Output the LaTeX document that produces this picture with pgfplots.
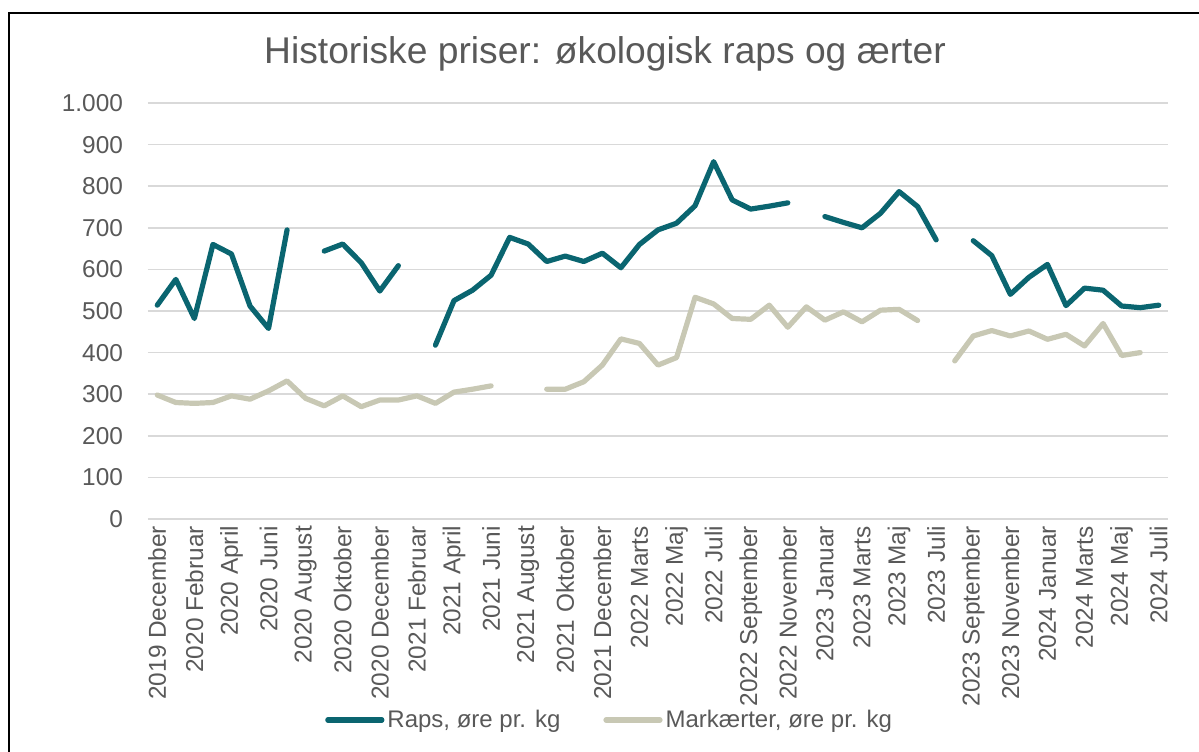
\documentclass[border=0pt]{standalone}
\usepackage{fontspec}
\setmainfont{Liberation Sans}
\usepackage{pgfplots}
\usepackage{pgfplotstable}
\pgfplotsset{compat=1.18}
\definecolor{raps}{RGB}{10,101,112}
\definecolor{aert}{RGB}{200,200,180}
\definecolor{txt}{RGB}{89,89,89}
\definecolor{gridc}{RGB}{217,217,217}
\pgfplotstableread{
i raps aert
0 514 298
1 576 280
2 482 278
3 660 280
4 637 296
5 512 288
6 458 308
7 695 332
8 nan 290
9 644 272
10 661 296
11 616 270
12 548 286
13 609 286
14 nan 296
15 418 278
16 525 305
17 550 312
18 586 320
19 677 nan
20 661 nan
21 619 312
22 632 312
23 619 330
24 639 370
25 604 433
26 660 422
27 695 370
28 711 388
29 753 533
30 859 517
31 767 482
32 745 480
33 752 514
34 760 461
35 nan 510
36 727 478
37 713 498
38 700 474
39 735 502
40 787 504
41 751 477
42 671 nan
43 nan 380
44 669 440
45 633 453
46 540 440
47 581 452
48 612 432
49 513 444
50 555 416
51 550 470
52 512 393
53 508 400
54 514 nan
}\data
\begin{document}
\begin{tikzpicture}
\useasboundingbox (0,0) rectangle (599.5pt,375.5pt);
\draw[black,line width=1pt] (4.25pt,-2pt) -- (4.25pt,369pt) -- (602pt,369pt);
\node[text=txt,font=\fontsize{18.6}{22}\selectfont] at (302.5pt,348.5pt) {Historiske priser: økologisk raps og ærter};
\begin{axis}[
  at={(74pt,116pt)}, anchor=south west,
  scale only axis, width=510pt, height=208pt,
  xmin=-0.5, xmax=54.5, ymin=0, ymax=1000,
  axis line style={draw=none},
  major tick length=0pt,
  ymajorgrids, xmajorgrids=false, grid style={draw=gridc,line width=0.8pt},
  ytick={0,100,...,1000},
  xtick={0,2,...,54},
  xticklabels={2019 December,2020 Februar,2020 April,2020 Juni,2020 August,2020 Oktober,2020 December,2021 Februar,2021 April,2021 Juni,2021 August,2021 Oktober,2021 December,2022 Marts,2022 Maj,2022 Juli,2022 September,2022 November,2023 Januar,2023 Marts,2023 Maj,2023 Juli,2023 September,2023 November,2024 Januar,2024 Marts,2024 Maj,2024 Juli},
  x tick label style={rotate=90, anchor=east, text=txt, font=\fontsize{12.2}{14}\selectfont},
  y tick label style={text=txt, font=\fontsize{12.2}{14}\selectfont, xshift=-9pt},
  /pgf/number format/assume math mode=true,
  /pgf/number format/1000 sep={.},
  unbounded coords=jump,
  legend columns=2,
  legend style={draw=none, fill=none, at={(0.453,-0.483)}, anchor=center,
    font=\fontsize{12}{14}\selectfont, text=txt,
    nodes={inner xsep=1.5pt},
    /tikz/every even column/.append style={column sep=20pt}},
  legend image code/.code={\draw[#1, line cap=round] (0pt,0pt) -- (27pt,0pt);},
]
\addplot[raps, line width=2.6pt, line join=round, line cap=round] table[x=i,y=raps] {\data};
\addlegendentry{Raps, øre pr. kg}
\addplot[aert, line width=2.6pt, line join=round, line cap=round] table[x=i,y=aert] {\data};
\addlegendentry{Markærter, øre pr. kg}
\end{axis}
\end{tikzpicture}
\end{document}
